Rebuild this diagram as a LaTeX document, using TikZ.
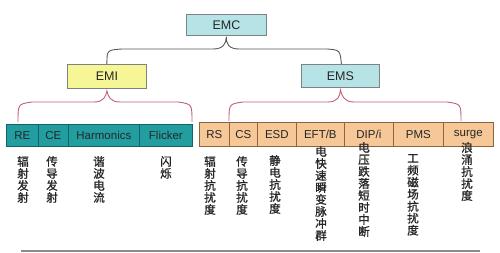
\documentclass[tikz,border=0pt]{standalone}
\usepackage{fontspec}
\setmainfont{Liberation Sans}
\newfontfamily\cjk[FakeBold=1.2]{Noto Sans CJK SC}
\definecolor{tealbar}{RGB}{34,158,160}
\definecolor{tealedge}{RGB}{18,100,104}
\definecolor{orangebar}{RGB}{246,200,152}
\definecolor{orangeedge}{RGB}{140,100,62}
\definecolor{cyanbox}{RGB}{182,228,230}
\definecolor{yellowbox}{RGB}{246,246,150}
\definecolor{boxedge}{RGB}{125,130,130}
\definecolor{bracegray}{RGB}{95,85,85}
\definecolor{bracepink}{RGB}{192,96,116}
\definecolor{linegray}{RGB}{140,140,140}
\begin{document}
\begin{tikzpicture}[x=1pt,y=-1pt,
  topbox/.style={draw=boxedge, line width=0.8pt, anchor=north west, inner sep=0pt, font=\fontsize{12.5}{14}\selectfont, text=black!85},
  tcell/.style={draw=tealedge, fill=tealbar, line width=0.7pt, anchor=north west, inner sep=0pt, minimum height=22pt, font=\fontsize{11.5}{13}\selectfont, text=black!85},
  ocell/.style={draw=orangeedge, fill=orangebar, line width=0.7pt, anchor=north west, inner sep=0pt, minimum height=24pt, font=\fontsize{11.5}{13}\selectfont, text=black!85},
  vlabel/.style={anchor=north, inner sep=0pt, align=center, font=\cjk\fontsize{11.5}{12}\selectfont, text=black!85},
  bracea/.style={draw=bracegray, line width=0.9pt},
  braceb/.style={draw=bracepink, line width=0.9pt}]
\useasboundingbox (0,0) rectangle (500,252);
% top boxes
\node[topbox, fill=cyanbox, minimum width=80pt, minimum height=21pt] (emc) at (186,14) {EMC};
\node[topbox, fill=yellowbox, minimum width=79pt, minimum height=24pt] (emi) at (67,64) {EMI};
\node[topbox, fill=cyanbox, minimum width=78pt, minimum height=23pt] (ems) at (301,64) {EMS};
% EMI cells
\node[tcell, minimum width=32pt] (re) at (6,124) {RE};
\node[tcell, minimum width=30pt] (ce) at (38,124) {CE};
\node[tcell, minimum width=71pt] (harm) at (68,124) {Harmonics};
\node[tcell, minimum width=53pt] (flick) at (139,124) {Flicker};
% EMS cells
\node[ocell, minimum width=30pt] (rs) at (199,122) {RS};
\node[ocell, minimum width=28pt] (cs) at (229,122) {CS};
\node[ocell, minimum width=39pt] (esd) at (257,122) {ESD};
\node[ocell, minimum width=48pt] (eft) at (296,122) {EFT/B};
\node[ocell, minimum width=49pt] (dip) at (344,122) {DIP/i};
\node[ocell, minimum width=50pt] (pms) at (393,122) {PMS};
\node[ocell, minimum width=50pt] (surge) at (443,122) {surge};
% braces
\coordinate (c1) at (emc.south);
\draw[bracea] (emi.north) .. controls (107,50) .. (122,49) -- (213,49)
  .. controls (223,49) and (226,44) .. ([yshift=-1pt]c1)
  .. controls (226,44) and (229,49) .. (239,49) -- (327,49)
  .. controls (340,50) .. ([xshift=1pt]ems.north);
\draw[braceb] (18,122) .. controls (18,104) .. (32,102) -- (94,102)
  .. controls (104,102) and (106,96) .. ([yshift=-2pt]emi.south)
  .. controls (108,96) and (110,102) .. (120,102) -- (178,102)
  .. controls (192,104) .. (192,122);
\draw[braceb] (229,121) .. controls (229,104) .. (243,102) -- (328,102)
  .. controls (338,102) and (340,96) .. ([yshift=-2pt]ems.south)
  .. controls (342,96) and (344,102) .. (354,102) -- (447,102)
  .. controls (461,104) .. (461,121);
% vertical labels
\node[vlabel] (l1) at (23,156) {辐\\射\\发\\射};
\node[vlabel] (l2) at (52,156) {传\\导\\发\\射};
\node[vlabel] (l3) at (99,156) {谐\\波\\电\\流};
\node[vlabel] (l4) at (166,156) {闪\\烁};
\node[vlabel] (l5) at (210,156) {辐\\射\\抗\\扰\\度};
\node[vlabel] (l6) at (242,156) {传\\导\\抗\\扰\\度};
\node[vlabel] (l7) at (275,155) {静\\电\\抗\\扰\\度};
\node[vlabel] (l8) at (321,146) {电\\快\\速\\瞬\\变\\脉\\冲\\群};
\node[vlabel] (l9) at (364,142) {电\\压\\跌\\落\\短\\时\\中\\断};
\node[vlabel] (l10) at (413,154) {工\\频\\磁\\场\\抗\\扰\\度};
\node[vlabel] (l11) at (467,142) {浪\\涌\\抗\\扰\\度};
% bottom line
\coordinate (b1) at (21,251);
\coordinate (b2) at (480,251);
\draw[linegray, line width=1.2pt] (b1) -- (b2);
\end{tikzpicture}
\end{document}
